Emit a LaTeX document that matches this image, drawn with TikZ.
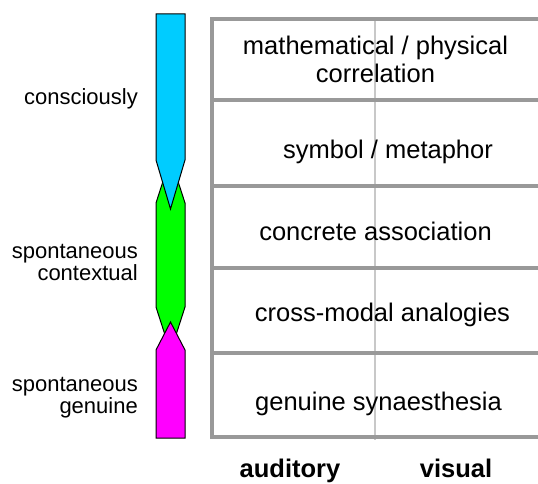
\documentclass[tikz,border=0pt]{standalone}
\usepackage{fontspec}
\setmainfont{Liberation Sans}

\definecolor{consc}{RGB}{0,204,255}
\definecolor{contx}{RGB}{0,255,0}
\definecolor{genui}{RGB}{255,0,255}
\definecolor{framegray}{RGB}{153,153,153}
\definecolor{splitgray}{RGB}{200,200,200}

\begin{document}
\begin{tikzpicture}[
  x=1pt, y=-1pt,
  every node/.style={inner sep=0pt,align=center},
  cell/.style={font=\fontsize{25.5}{28}\selectfont,anchor=base},
  side/.style={font=\fontsize{22}{22}\selectfont,align=right,anchor=base east},
  head/.style={font=\fontsize{25.5}{28}\selectfont\bfseries,anchor=base},
  band/.style={draw=black,line width=1pt,line join=miter},
  rule/.style={draw=framegray,line width=4pt}
]
  \useasboundingbox (0,0) rectangle (538,484);

  % bands on the left
  \filldraw[band,fill=contx] (170.5,158) -- (185,203) -- (185,307) -- (170.5,352)
    -- (156,307) -- (156,203) -- cycle;
  \filldraw[band,fill=consc] (156,14) -- (185,14) -- (185,160) -- (170.5,209)
    -- (156,160) -- cycle;
  \filldraw[band,fill=genui] (170.5,322) -- (185,350) -- (185,438) -- (156,438)
    -- (156,350) -- cycle;

  \node[side] (consciously) at (138,105) {consciously};
  \node[side] (contextual) at (138,280) {spontaneous\\contextual};
  \node[side] (genuine) at (138,413) {spontaneous\\genuine};

  % table
  \draw[splitgray,line width=1.5pt] (375,19) -- (375,440);
  \draw[rule] (538,19) -- (212,19) -- (212,437) -- (538,437);
  \foreach \y in {100,186,268,353}
    \draw[rule] (212,\y) -- (538,\y);

  \node[cell] (correlation) at (375.5,83) {mathematical / physical\\correlation};
  \node[cell] (symbol) at (388,158) {symbol / metaphor};
  \node[cell] (concrete) at (375.5,240) {concrete association};
  \node[cell] (crossmodal) at (382.5,321) {cross-modal analogies};
  \node[cell] (synaesthesia) at (378.5,410) {genuine synaesthesia};

  \node[head] (auditory) at (290,477) {auditory};
  \node[head] (visual) at (456,477) {visual};
\end{tikzpicture}
\end{document}
